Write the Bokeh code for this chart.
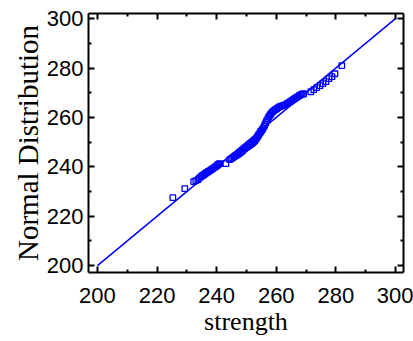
from bokeh.plotting import figure
from bokeh.models import LinearAxis, FixedTicker, Range1d
from bokeh.embed import file_html
from bokeh.resources import INLINE

strength = [225.3, 229.3, 232.3, 233.0, 233.7, 234.2, 234.7, 235.2, 235.7, 236.2, 236.7, 237.2,
            237.7, 238.2, 238.7, 239.2, 239.7, 240.1, 240.4, 240.7, 241.0, 243.1,
            244.4, 244.9, 245.4, 245.9, 246.4, 246.9, 247.4, 247.9, 248.4, 248.9, 249.4, 249.9,
            250.4, 250.9, 251.4, 251.8, 252.1, 252.5, 252.8, 253.2, 253.5, 253.8, 254.1, 254.5,
            254.8, 255.2, 255.5, 255.9, 256.2, 256.5, 256.8, 257.2, 257.5, 257.9, 258.2, 258.7,
            259.2, 259.7, 260.2, 260.7, 261.2, 261.7, 262.2, 262.7, 263.2, 263.7, 264.2, 264.7,
            265.2, 265.7, 266.2, 266.7, 267.2, 267.7, 268.2, 268.7, 269.2,
            271.6, 272.6, 273.6, 274.7, 275.7, 276.7, 277.7, 278.7, 279.7, 282.0]
normal = [227.5, 231.2, 234.0, 234.4, 234.8, 235.4, 236.0, 236.4, 236.8, 237.3, 237.7, 238.1,
          238.5, 238.9, 239.3, 239.7, 240.1, 240.5, 240.9, 241.1, 241.3, 241.3,
          242.9, 243.3, 243.7, 244.1, 244.5, 244.9, 245.3, 245.8, 246.2, 246.8, 247.4, 247.8,
          248.2, 248.6, 249.0, 249.4, 249.8, 250.2, 250.6, 251.2, 251.8, 252.4, 253.0, 253.7,
          254.3, 254.9, 255.5, 256.3, 257.1, 257.9, 258.7, 259.5, 260.3, 260.9, 261.5, 262.2,
          262.8, 263.2, 263.6, 264.0, 264.4, 264.6, 264.8, 265.0, 265.2, 265.6, 266.0, 266.4,
          266.8, 267.2, 267.6, 268.0, 268.4, 268.8, 269.2, 269.4, 269.6,
          270.4, 271.3, 272.1, 272.9, 273.7, 274.5, 275.7, 276.5, 277.7, 281.0]
fit_x = [200, 300]
fit_y = [200, 300]
major_ticks = [200, 220, 240, 260, 280, 300]
minor_ticks = [190, 210, 230, 250, 270, 290, 310]

p = figure(width=413, height=341, output_backend="svg", toolbar_location=None,
           x_range=Range1d(197, 302.7), y_range=Range1d(197.2, 302.1),
           x_axis_type=None, y_axis_type=None,
           min_border_left=88, min_border_right=10, min_border_top=13, min_border_bottom=69)
p.background_fill_color = "white"
p.border_fill_color = "white"
p.outline_line_color = None

p.line(fit_x, fit_y, line_color="#0000ff", line_width=1.5)
p.scatter(strength, normal, marker="square", size=5.5, fill_color=None,
          line_color="#0000ff", line_width=1.3)

bottom = LinearAxis(axis_label="strength")
left = LinearAxis(axis_label="Normal Distribution")
top = LinearAxis()
right = LinearAxis()
p.add_layout(bottom, "below")
p.add_layout(left, "left")
p.add_layout(top, "above")
p.add_layout(right, "right")

for ax in [bottom, left, top, right]:
    ax.ticker = FixedTicker(ticks=major_ticks, minor_ticks=minor_ticks)
    ax.axis_line_color = "black"
    ax.axis_line_width = 2
    ax.major_tick_line_color = "black"
    ax.major_tick_line_width = 2
    ax.minor_tick_line_color = "black"
    ax.minor_tick_line_width = 2
    ax.major_tick_in = 6
    ax.major_tick_out = 0
    ax.minor_tick_in = 3
    ax.minor_tick_out = 0

for ax in [top, right]:
    ax.major_label_overrides = {t: "" for t in major_ticks}
    ax.major_label_standoff = 0

for ax in [bottom, left]:
    ax.major_label_text_font = "Liberation Sans"
    ax.major_label_text_font_size = "22px"
    ax.major_label_text_color = "black"
    ax.axis_label_text_font = "Liberation Serif"
    ax.axis_label_text_font_style = "normal"
    ax.axis_label_text_color = "black"

bottom.major_label_standoff = 15
bottom.axis_label_text_font_size = "26px"
bottom.axis_label_standoff = 1
left.major_label_standoff = 5
left.axis_label_text_font_size = "29px"
left.axis_label_standoff = 0

open("out.html", "w").write(file_html(p, INLINE))
